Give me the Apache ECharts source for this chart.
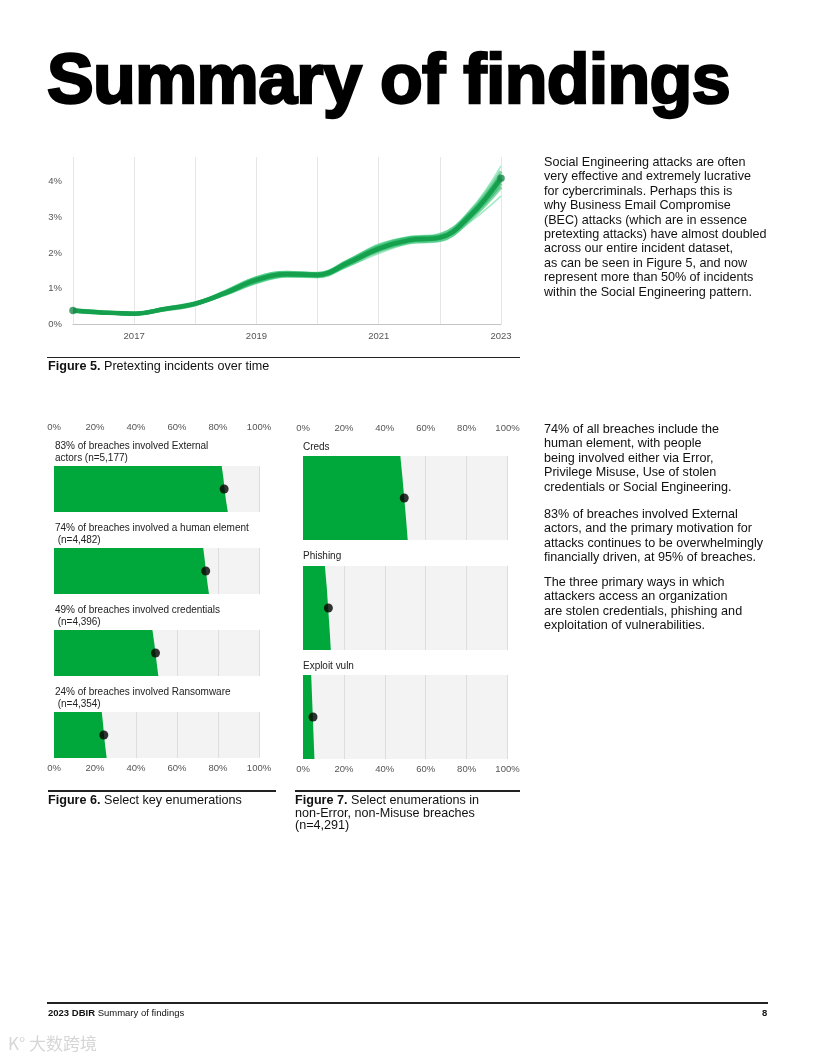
<!DOCTYPE html>
<html>
<head>
<meta charset="utf-8">
<script src="https://cdn.jsdelivr.net/npm/echarts@6/dist/echarts.min.js"></script>
<style>
  html,body{margin:0;padding:0;background:#fff;}
  #page{position:relative;width:816px;height:1056px;overflow:hidden;background:#fff;font-family:"Liberation Sans",Arial,sans-serif;color:#111;}
  #chart{position:absolute;left:0;top:0;width:816px;height:1056px;}
  .t{position:absolute;white-space:pre;}
  .rule{position:absolute;background:#222;height:1.5px;}
  .para{font-size:12.6px;line-height:14.4px;}
  .lab{font-size:10px;line-height:11.7px;letter-spacing:-0.02px;color:#222;}
  .cap{font-size:12.6px;line-height:12.5px;}
</style>
</head>
<body>
<div id="page">
  <div id="chart"></div>
  <div class="t" id="title" style="left:47px;top:44px;font-size:70px;line-height:70px;font-weight:bold;letter-spacing:-0.7px;-webkit-text-stroke:2.4px #000;color:#000;">Summary of findings</div>

  <div class="t para" style="left:544px;top:155px;">Social Engineering attacks are often
very effective and extremely lucrative
for cybercriminals. Perhaps this is
why Business Email Compromise
(BEC) attacks (which are in essence
pretexting attacks) have almost doubled
across our entire incident dataset,
as can be seen in Figure 5, and now
represent more than 50% of incidents
within the Social Engineering pattern.</div>

  <div class="rule" style="left:47px;top:356.5px;width:473px;"></div>
  <div class="t cap" style="left:48px;top:360px;"><b>Figure 5.</b> Pretexting incidents over time</div>

  <div class="t para" style="left:544px;top:422px;">74% of all breaches include the
human element, with people
being involved either via Error,
Privilege Misuse, Use of stolen
credentials or Social Engineering.</div>
  <div class="t para" style="left:544px;top:507px;">83% of breaches involved External
actors, and the primary motivation for
attacks continues to be overwhelmingly
financially driven, at 95% of breaches.</div>
  <div class="t para" style="left:544px;top:575px;">The three primary ways in which
attackers access an organization
are stolen credentials, phishing and
exploitation of vulnerabilities.</div>

  <div class="t lab" style="left:55px;top:440px;">83% of breaches involved External
actors (n=5,177)</div>
  <div class="t lab" style="left:55px;top:522px;">74% of breaches involved a human element
 (n=4,482)</div>
  <div class="t lab" style="left:55px;top:604px;">49% of breaches involved credentials
 (n=4,396)</div>
  <div class="t lab" style="left:55px;top:686px;">24% of breaches involved Ransomware
 (n=4,354)</div>

  <div class="t lab" style="left:303px;top:441px;">Creds</div>
  <div class="t lab" style="left:303px;top:550px;">Phishing</div>
  <div class="t lab" style="left:303px;top:660px;">Exploit vuln</div>

  <div class="rule" style="left:48px;top:790px;width:228px;"></div>
  <div class="t cap" style="left:48px;top:794px;"><b>Figure 6.</b> Select key enumerations</div>
  <div class="rule" style="left:295px;top:790px;width:225px;"></div>
  <div class="t cap" style="left:295px;top:794px;"><b>Figure 7.</b> Select enumerations in
non-Error, non-Misuse breaches
(n=4,291)</div>

  <div class="rule" style="left:47px;top:1002px;width:721px;"></div>
  <div class="t" style="left:48px;top:1007px;font-size:9.5px;"><b>2023 DBIR</b> Summary of findings</div>
  <div class="t" style="left:762px;top:1007px;font-size:9.5px;font-weight:bold;">8</div>
  <div class="t" style="left:8px;top:1030px;font-size:17px;color:#d6d6d6;font-family:'Noto Sans CJK SC';">K° 大数跨境</div>
</div>
<script>
// ---------- Figure 5 data ----------
const years = [2016, 2016.5, 2017, 2017.5, 2018, 2018.5, 2019, 2019.5, 2020, 2020.5, 2021, 2021.5, 2022, 2022.5, 2023];
const mainLine = [0.38, 0.32, 0.29, 0.42, 0.57, 0.88, 1.24, 1.40, 1.38, 1.72, 2.12, 2.36, 2.43, 3.05, 4.10];
const sample1 = [0.40, 0.33, 0.28, 0.40, 0.55, 0.92, 1.30, 1.45, 1.42, 1.78, 2.20, 2.42, 2.48, 3.15, 4.30];
const sample2 = [0.36, 0.31, 0.30, 0.44, 0.59, 0.84, 1.18, 1.36, 1.34, 1.66, 2.05, 2.30, 2.36, 2.95, 3.85];
const sample3 = [0.39, 0.34, 0.29, 0.41, 0.58, 0.90, 1.27, 1.42, 1.40, 1.75, 2.15, 2.40, 2.50, 3.12, 4.20];
const sample4 = [0.37, 0.32, 0.31, 0.43, 0.56, 0.86, 1.20, 1.38, 1.36, 1.70, 2.08, 2.33, 2.40, 3.00, 3.95];
const sample5 = [0.38, 0.30, 0.28, 0.42, 0.60, 0.95, 1.33, 1.48, 1.44, 1.80, 2.25, 2.46, 2.55, 3.22, 4.45];
const sample6 = [0.38, 0.33, 0.30, 0.41, 0.54, 0.82, 1.14, 1.32, 1.31, 1.62, 1.98, 2.26, 2.32, 2.88, 3.60];
const sample7 = [0.39, 0.32, 0.29, 0.43, 0.58, 0.89, 1.26, 1.43, 1.41, 1.76, 2.18, 2.41, 2.46, 3.10, 4.15];
const sample8 = [0.37, 0.32, 0.29, 0.42, 0.57, 0.87, 1.22, 1.39, 1.37, 1.69, 2.10, 2.34, 2.42, 3.04, 4.02];
const yearLabels = [2017, 2019, 2021, 2023];

// ---------- Figure 6 data ----------
const fig6Names = ['External', 'Human', 'Credentials', 'Ransomware'];
const fig6Points = [83, 74, 49.5, 24.3];
// slab right edge, quantiles from top to bottom of each band
const fig6Edges = [
  [81.8, 82.6, 83.2, 83.9, 84.8],
  [72.8, 73.5, 74.1, 74.8, 75.6],
  [48.0, 48.8, 49.5, 50.2, 50.9],
  [23.3, 23.9, 24.4, 25.0, 25.7]
];
// ---------- Figure 7 data ----------
const fig7Names = ['Creds', 'Phishing', 'Exploit vuln'];
const fig7Points = [49.5, 12.4, 4.9];
const fig7Edges = [
  [47.6, 48.6, 49.5, 50.4, 51.2],
  [10.7, 11.6, 12.3, 13.0, 13.6],
  [4.0, 4.4, 4.8, 5.2, 5.6]
];
const pctTicks = [0, 20, 40, 60, 80, 100];

const GREEN = '#00a83b';
const chart = echarts.init(document.getElementById('chart'), null, {renderer: 'canvas'});

const grids = [];
const xAxes = [];
const yAxes = [];
const series = [];

// Figure 5 grid
grids.push({left: 73, top: 157, width: 428, height: 167, containLabel: false});
xAxes.push({
  type: 'value', gridIndex: 0, min: 2016, max: 2023, interval: 1,
  axisLine: {show: true, lineStyle: {color: '#c4c4c4', width: 1}},
  axisTick: {show: false},
  axisLabel: {color: '#555', fontSize: 9.5, margin: 7, fontFamily: 'Liberation Sans',
    formatter: v => yearLabels.indexOf(v) >= 0 ? String(v) : ''},
  splitLine: {show: true, lineStyle: {color: '#e6e6e6', width: 1}}
});
yAxes.push({
  type: 'value', gridIndex: 0, min: 0, max: 4.7, interval: 1,
  axisLine: {show: false}, axisTick: {show: false},
  axisLabel: {color: '#555', fontSize: 9.5, margin: 11, fontFamily: 'Liberation Sans',
    formatter: v => Number.isInteger(v) ? v + '%' : ''},
  splitLine: {show: false}
});
const samples = [sample6, sample5, sample2, sample1, sample4, sample3, sample7, sample8];
samples.forEach((arr) => {
  const outer = (arr === sample5 || arr === sample6);
  series.push({
    type: 'line', xAxisIndex: 0, yAxisIndex: 0, smooth: 0.4, symbol: 'none', silent: true,
    data: years.map((y, j) => [y, arr[j]]),
    lineStyle: {color: outer ? '#5fe09c' : '#1fb45e', width: outer ? 1.5 : 3.5, opacity: outer ? 0.6 : 0.55},
    z: 2
  });
});
series.push({
  type: 'line', xAxisIndex: 0, yAxisIndex: 0, smooth: 0.4, symbol: 'none', silent: true,
  data: years.map((y, j) => [y, mainLine[j]]),
  lineStyle: {color: '#14a04c', width: 4.5}, z: 3
});
series.push({
  type: 'scatter', xAxisIndex: 0, yAxisIndex: 0, symbolSize: 7.5, silent: true,
  data: [[years[0], mainLine[0]], [years[years.length - 1], mainLine[mainLine.length - 1]]],
  itemStyle: {color: '#1e8a4b'}, z: 4
});

function addPanel(left, width, top, height, edges, point, labelPos, labelMargin) {
  const gi = grids.length;
  grids.push({left: left, width: width, top: top, height: height, show: true,
    backgroundColor: '#f3f3f3', borderWidth: 0});
  xAxes.push({
    type: 'value', gridIndex: gi, min: 0, max: 100, interval: 20,
    position: labelPos || 'bottom',
    axisLine: {show: false}, axisTick: {show: false},
    axisLabel: {show: !!labelPos, color: '#555', fontSize: 9.5, margin: labelMargin || 0,
      fontFamily: 'Liberation Sans', formatter: v => pctTicks.indexOf(v) >= 0 ? v + '%' : ''},
    splitLine: {show: true, lineStyle: {color: '#dddddd', width: 1}}
  });
  yAxes.push({type: 'value', gridIndex: gi, min: 0, max: 1, inverse: true, show: false,
    splitLine: {show: false}});
  series.push({
    type: 'custom', xAxisIndex: gi, yAxisIndex: gi, silent: true,
    data: [edges],
    renderItem: function (params, api) {
      const n = edges.length;
      const pts = [api.coord([0, 0])];
      for (let i = 0; i < n; i++) pts.push(api.coord([edges[i], i / (n - 1)]));
      pts.push(api.coord([0, 1]));
      return {type: 'polygon', shape: {points: pts}, style: {fill: GREEN}};
    },
    z: 2
  });
  series.push({
    type: 'scatter', xAxisIndex: gi, yAxisIndex: gi, symbolSize: 9, silent: true,
    data: [[point, 0.5]], itemStyle: {color: '#000'}, z: 3
  });
}

// Figure 6 panels
const f6Left = 54, f6Width = 205;
const f6Tops = [466, 548, 630, 712];
const f6H = 46;
fig6Names.forEach((name, i) => {
  const pos = i === 0 ? 'top' : (i === 3 ? 'bottom' : null);
  const margin = i === 0 ? 34 : 5;
  addPanel(f6Left, f6Width, f6Tops[i], f6H, fig6Edges[i], fig6Points[i], pos, margin);
});
// Figure 7 panels
const f7Left = 303, f7Width = 204.5;
const f7Tops = [456, 566, 675];
const f7H = 84;
fig7Names.forEach((name, i) => {
  const pos = i === 0 ? 'top' : (i === 2 ? 'bottom' : null);
  const margin = i === 0 ? 23 : 5;
  addPanel(f7Left, f7Width, f7Tops[i], f7H, fig7Edges[i], fig7Points[i], pos, margin);
});

chart.setOption({
  animation: false,
  backgroundColor: 'transparent',
  grid: grids,
  xAxis: xAxes,
  yAxis: yAxes,
  series: series
});
</script>
</body>
</html>
